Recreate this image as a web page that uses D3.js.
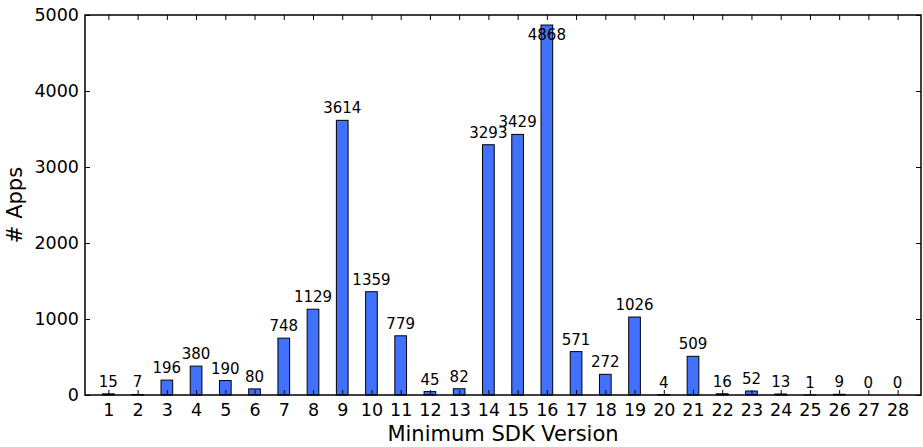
<html>
<script src="https://d3js.org/d3.v7.min.js"></script>
<style>
  body { margin: 0; background: #fff; }
  text { font-family: "DejaVu Sans", sans-serif; fill: #000; }
</style>
<body>
<svg id="plot"></svg>
<script>
// chart data
var versions = [1,2,3,4,5,6,7,8,9,10,11,12,13,14,15,16,17,18,19,20,21,22,23,24,25,26,27,28];
var apps = [15,7,196,380,190,80,748,1129,3614,1359,779,45,82,3293,3429,4868,571,272,1026,4,509,16,52,13,1,9,0,0];
var yTicks = [0,1000,2000,3000,4000,5000];

var screen = {width:923, height:447};
var margins = {top:15, bottom:52, left:85, right:2};
var graph = {
    width: screen.width - margins.left - margins.right,
    height: screen.height - margins.top - margins.bottom
};

var svg = d3.select("#plot")
    .attr("width", screen.width)
    .attr("height", screen.height);

var xScale = d3.scaleLinear()
    .domain([0.2, 28.8])
    .range([0, graph.width]);

var yScale = d3.scaleLinear()
    .domain([0, 5000])
    .range([graph.height, 0]);

var g = svg.append("g")
    .attr("transform", "translate(" + margins.left + "," + margins.top + ")");

var barW = xScale(1.4) - xScale(1);

// bars
g.selectAll("rect.bar")
    .data(apps)
    .enter()
    .append("rect")
    .classed("bar", true)
    .attr("x", function(d, i) { return xScale(versions[i]) - barW / 2; })
    .attr("y", function(d) { return yScale(d); })
    .attr("width", barW)
    .attr("height", function(d) { return graph.height - yScale(d); })
    .attr("fill", "#4271ff")
    .attr("stroke", "#000")
    .attr("stroke-width", 1);

// value labels
g.selectAll("text.val")
    .data(apps)
    .enter()
    .append("text")
    .classed("val", true)
    .attr("x", function(d, i) { return xScale(versions[i]); })
    .attr("y", function(d) {
        var y = yScale(d) - 7;
        // no room above the tallest bar, put it just under the top
        return y < 15 ? yScale(d) + 15 : y;
    })
    .attr("text-anchor", "middle")
    .style("font-size", "15px")
    .text(function(d) { return d; });

// axes, ticks inside like matplotlib classic
var tickLen = 5;
var xBottom = d3.axisBottom(xScale).tickValues(versions).tickSizeInner(-tickLen).tickSizeOuter(0).tickPadding(9).tickFormat(d3.format("d"));
var xTop = d3.axisTop(xScale).tickValues(versions).tickSizeInner(-tickLen).tickSizeOuter(0).tickFormat("");
var yLeft = d3.axisLeft(yScale).tickValues(yTicks).tickSizeInner(-tickLen).tickSizeOuter(0).tickPadding(6).tickFormat(d3.format("d"));
var yRight = d3.axisRight(yScale).tickValues(yTicks).tickSizeInner(-tickLen).tickSizeOuter(0).tickFormat("");

var axes = g.append("g");
axes.append("g").attr("transform", "translate(0," + graph.height + ")").call(xBottom);
axes.append("g").call(xTop);
axes.append("g").call(yLeft);
axes.append("g").attr("transform", "translate(" + graph.width + ",0)").call(yRight);

axes.selectAll(".domain").remove();
axes.selectAll(".tick line").attr("stroke", "#000").attr("stroke-width", 1);
axes.selectAll(".tick text")
    .style("font-size", "17.5px")
    .style("font-family", "DejaVu Sans, sans-serif")
    .attr("fill", "#000");

// frame
g.append("rect")
    .attr("x", 0)
    .attr("y", 0)
    .attr("width", graph.width)
    .attr("height", graph.height)
    .attr("fill", "none")
    .attr("stroke", "#000")
    .attr("stroke-width", 1.5);

// labels
svg.append("text")
    .text("Minimum SDK Version")
    .attr("text-anchor", "middle")
    .attr("x", margins.left + graph.width / 2)
    .attr("y", 441)
    .style("font-size", "21px");

svg.append("g")
    .attr("transform", "translate(22," + (margins.top + graph.height / 2) + ")")
    .append("text")
    .text("# Apps")
    .attr("text-anchor", "middle")
    .attr("transform", "rotate(-90)")
    .style("font-size", "21px");
</script>
</body>
</html>
